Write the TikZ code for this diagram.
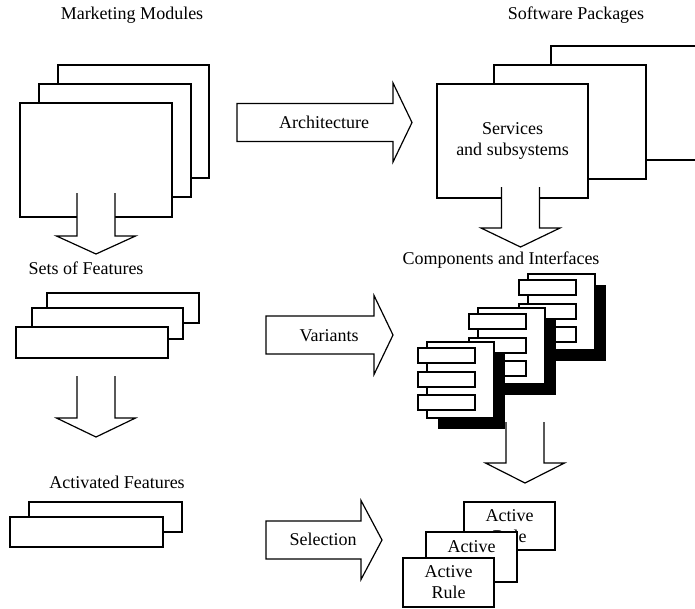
\documentclass[tikz,border=0pt]{standalone}
\usepackage{fontspec}
\setmainfont{Liberation Serif}
\newcommand\blkdown[4]{% centre x, shaft top y, head y, tip y
  \filldraw[blk] (#1-19,#2) -- (#1-19,#3) -- (#1-39.5,#3) -- (#1,#4) -- (#1+39.5,#3) -- (#1+19,#3) -- (#1+19,#2);}
\newcommand\blkright[4]{% left x, centre y, head base x, tip x
  \filldraw[blk] (#1,#2-19) -- (#3,#2-19) -- (#3,#2-39.5) -- (#4,#2) -- (#3,#2+39.5) -- (#3,#2+19) -- (#1,#2+19) -- cycle;}
\newcommand\compo[3]{% name, x, y of main box
  \node[shadowbox] (#1sh) at (#2+11,#3+11) {};
  \node[box, minimum width=67pt, minimum height=76pt] (#1) at (#2,#3) {};
  \node[box, minimum width=57pt, minimum height=15pt] (#1a) at (#2-9,#3+6) {};
  \node[box, minimum width=57pt, minimum height=15pt] (#1b) at (#2-9,#3+30) {};
  \node[box, minimum width=57pt, minimum height=15pt] (#1c) at (#2-9,#3+53) {};}
\begin{document}
\begin{tikzpicture}[x=1pt,y=-1pt, line width=1.2pt,
  box/.style={draw, fill=white, inner sep=0pt, outer sep=0pt, anchor=north west,
    font=\fontsize{18}{21}\selectfont, align=center},
  shadowbox/.style={fill=black, inner sep=0pt, outer sep=0pt, anchor=north west,
    minimum width=67pt, minimum height=76pt},
  lbl/.style={font=\fontsize{18}{21}\selectfont, inner sep=0pt, align=center},
  blk/.style={draw, fill=white, line join=miter},
]
\useasboundingbox (0,0) rectangle (695,608);

% ---- titles
\node[lbl] (tmm) at (132,15) {Marketing Modules};
\node[lbl] (tsp) at (576,15) {Software Packages};
\node[lbl] (tsf) at (86,268) {Sets of Features};
\node[lbl] (tci) at (501,260) {Components and Interfaces};
\node[lbl] (taf) at (117,482) {Activated Features};

% ---- marketing modules
\node[box, minimum width=151pt, minimum height=113pt] (mm3) at (58,65) {};
\node[box, minimum width=152pt, minimum height=113pt] (mm2) at (39,84) {};
\node[box, minimum width=152pt, minimum height=114pt] (mm1) at (20,103) {};
\blkdown{96}{193}{236}{254}

% ---- sets of features
\node[box, minimum width=152pt, minimum height=30pt] (sf3) at (47,293) {};
\node[box, minimum width=151pt, minimum height=31pt] (sf2) at (32,308) {};
\node[box, minimum width=152pt, minimum height=31pt] (sf1) at (16,327) {};
\blkdown{96}{376}{418}{437}

% ---- activated features
\node[box, minimum width=153pt, minimum height=30pt] (af2) at (29,502) {};
\node[box, minimum width=153pt, minimum height=30pt] (af1) at (10,517) {};

% ---- horizontal block arrows
\blkright{237}{122.5}{393}{412}
\node[lbl] (arch) at (324,122) {Architecture};
\blkright{266}{335}{374}{393}
\node[lbl] (var) at (329,336) {Variants};
\blkright{266}{540}{361}{382}
\node[lbl] (sel) at (323,539) {Selection};

% ---- software packages
\draw (700,46) -| (551,160) -- (700,160);
\node[box, minimum width=152pt, minimum height=114pt] (sp2) at (494,65) {};
\node[box, minimum width=151pt, minimum height=114pt] (sp1) at (437,84) {Services\\and subsystems};
\blkdown{520.5}{187}{228}{247}

% ---- components
\compo{cc}{528}{274}
\compo{cb}{478}{308}
\compo{ca}{427}{342}
\blkdown{525}{422}{463}{483}

% ---- active rules
\node[box, minimum width=91pt, minimum height=48pt] (ar3) at (464,502) {Active\\Rule};
\node[box, minimum width=91pt, minimum height=50pt] (ar2) at (426,532) {};
\node[lbl] (ar2t) at (471.5,546.5) {Active};
\node[box, minimum width=91pt, minimum height=49pt] (ar1) at (403,558) {Active\\Rule};
\end{tikzpicture}
\end{document}
